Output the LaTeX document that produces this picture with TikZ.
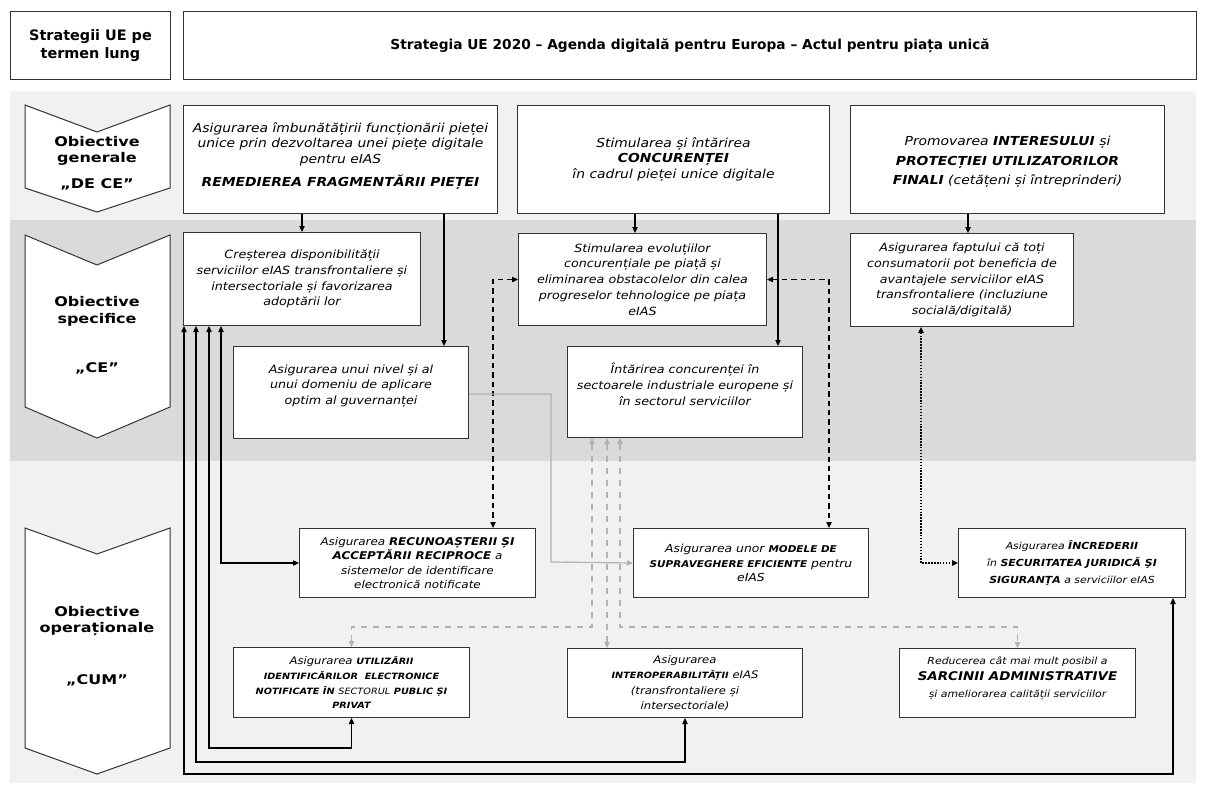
\documentclass[tikz,border=0pt]{standalone}
\usepackage{fontspec}
\setmainfont{DejaVu Sans}[ItalicFeatures={FakeStretch=1.12}, BoldItalicFeatures={FakeStretch=1.12}]
\newfontfamily\lvlfont{DejaVu Sans}[FakeStretch=1.2]
\usetikzlibrary{arrows.meta}

\definecolor{bandA}{gray}{0.945}
\definecolor{bandB}{gray}{0.855}
\definecolor{lnGray}{gray}{0.7}

\tikzset{
  sz/.style 2 args={minimum width=#1*0.75pt, minimum height=#2*0.75pt},
  box/.style={draw=black!80, fill=white, line width=0.75pt, align=center, inner sep=1pt, anchor=north west},
  hbox/.style={box, font=\fontsize{10.8}{13.5}\selectfont\bfseries},
  gbox/.style={box, font=\fontsize{9.3}{11.4}\selectfont\itshape},
  sbox/.style={box, font=\fontsize{8.5}{11.8}\selectfont\itshape},
  obox/.style={box, font=\fontsize{8}{10.9}\selectfont\itshape},
  lvl/.style={align=center, font=\lvlfont\fontsize{10}{12.5}\selectfont\bfseries},
  tip/.style={-{Triangle[length=4.5pt,width=4pt]}},
  both/.style={{Triangle[length=4.5pt,width=4pt]}-{Triangle[length=4.5pt,width=4pt]}},
  link/.style={line width=0.9pt, black},
  dlink/.style={link, dash pattern=on 4pt off 3pt},
  glink/.style={line width=0.9pt, lnGray},
  gdlink/.style={glink, dash pattern=on 5pt off 4pt},
  olink/.style={link, line width=1.3pt, dash pattern=on 1.1pt off 1.1pt},
}
\newcommand\smb[1]{{\fontsize{6.5}{10}\selectfont\bfseries #1}}

\begin{document}
\begin{tikzpicture}[x=0.75pt, y=-0.75pt]
    \useasboundingbox (0,0) rectangle (1206,785);
    \fill[bandA] (10,91) rectangle (1196,220);
    \fill[bandB] (10,220) rectangle (1196,461);
    \fill[bandA] (10,461) rectangle (1196,783);

    \foreach \t/\n/\s/\p in {105/132/188/212, 235/265/407/438, 528/554/748/774}
    {\draw[fill=white, draw=black!80, line width=0.75pt]
        (25,\t) -- (97,\n) -- (170,\t) -- (170,\s) -- (97,\p) -- (25,\s) -- cycle;}
    \node[lvl] (l1) at (97,151) {Obiective\\generale};
    \node[lvl] (l1q) at (97,184) {„DE CE”};
    \node[lvl] (l2) at (97,311) {Obiective\\specifice};
    \node[lvl] (l2q) at (97,368) {„CE”};
    \node[lvl] (l3) at (97,621) {Obiective\\operaționale};
    \node[lvl] (l3q) at (97,680) {„CUM”};

    \node[hbox, sz={160}{68}] (hl) at (10,11) {Strategii UE pe\\termen lung};
    \node[hbox, sz={1013}{68}, font=\fontsize{10.3}{12}\selectfont\bfseries] (hr) at (183,11)
        {Strategia UE 2020 – Agenda digitală pentru Europa – Actul pentru piața unică};

    \node[gbox, sz={314}{108}] (g1) at (183,105)
        {Asigurarea îmbunătățirii funcționării pieței\\unice prin dezvoltarea unei piețe digitale\\pentru eIAS\\[6pt]
         \textbf{REMEDIEREA FRAGMENTĂRII PIEȚEI}\\[-4pt]\mbox{}};
    \node[gbox, sz={312}{108}] (g2) at (517,105)
        {Stimularea și întărirea\\\textbf{CONCURENȚEI}\\în cadrul pieței unice digitale};
    \node[gbox, sz={314}{108}, font=\fontsize{9.3}{14.6}\selectfont\itshape] (g3) at (850,105)
        {\mbox{}\\[-4pt]Promovarea \textbf{INTERESULUI} și\\\textbf{PROTECȚIEI UTILIZATORILOR}\\\textbf{FINALI} (cetățeni și întreprinderi)};

    \node[sbox, sz={237}{93}] (s1) at (183,232)
        {Creșterea disponibilității\\serviciilor eIAS transfrontaliere și\\intersectoriale și favorizarea\\adoptării lor};
    \node[sbox, sz={248}{92}] (s2) at (518,233)
        {Stimularea evoluțiilor\\concurențiale pe piață și\\eliminarea obstacolelor din calea\\progreselor tehnologice pe piața\\eIAS};
    \node[sbox, sz={223}{93}] (s4) at (850,233)
        {Asigurarea faptului că toți\\consumatorii pot beneficia de\\avantajele serviciilor eIAS\\transfrontaliere (incluziune\\socială/digitală)};
    \node[sbox, sz={235}{92}] (s5) at (233,346)
        {Asigurarea unui nivel și al\\unui domeniu de aplicare\\optim al guvernanței\\\mbox{}};
    \node[sbox, sz={235}{91}] (s3) at (567,346)
        {Întărirea concurenței în\\sectoarele industriale europene și\\în sectorul serviciilor\\\mbox{}};

    \node[obox, sz={236}{69}] (rec) at (299,528)
        {Asigurarea \textbf{RECUNOAȘTERII ȘI}\\\textbf{ACCEPTĂRII RECIPROCE} a\\sistemelor de identificare\\electronică notificate};
    \node[obox, sz={235}{69}, font=\fontsize{8.3}{10.9}\selectfont\itshape] (mod) at (633,528)
        {Asigurarea unor {\fontsize{7}{10}\selectfont\bfseries MODELE DE}\\{\fontsize{7}{10}\selectfont\bfseries SUPRAVEGHERE EFICIENTE} pentru\\eIAS};
    \node[obox, sz={227}{69}, font=\fontsize{7.3}{12.6}\selectfont\itshape] (inc) at (958,528)
        {Asigurarea \textbf{ÎNCREDERII}\\în \textbf{SECURITATEA JURIDICĂ ŞI}\\\textbf{SIGURANŢA} a serviciilor eIAS};
    \node[obox, sz={236}{70}, font=\fontsize{7.8}{11.2}\selectfont\itshape] (uti) at (233,647)
        {Asigurarea \smb{UTILIZĂRII}\\\smb{IDENTIFICĂRILOR\ \ ELECTRONICE}\\\smb{NOTIFICATE ÎN} {\fontsize{6.5}{10}\selectfont SECTORUL} \smb{PUBLIC ȘI}\\\smb{PRIVAT}};
    \node[obox, sz={235}{69}, font=\fontsize{7.8}{11.6}\selectfont\itshape] (int) at (567,648)
        {Asigurarea\\\smb{INTEROPERABILITĂȚII} eIAS\\(transfrontaliere și\\intersectoriale)};
    \node[obox, sz={236}{69}, font=\fontsize{7.3}{12.4}\selectfont\itshape] (red) at (899,648)
        {Reducerea cât mai mult posibil a\\{\fontsize{9}{10}\selectfont\bfseries SARCINII ADMINISTRATIVE}\\ și ameliorarea calității serviciilor\\[-3pt]\mbox{}};

    \draw[link,tip] (g1.south -| s1.north) -- (s1.north);
    \draw[link,tip] (g1.south -| 444,0) -- (s5.north -| 444,0);
    \draw[link,tip] (g2.south -| 635,0) -- (s2.north -| 635,0);
    \draw[link,tip] (g2.south -| 778,0) -- (s3.north -| 778,0);
    \draw[link,tip] (g3.south -| 968,0) -- (s4.north -| 968,0);

    \draw[dlink,both] (s2.west) -| (rec.north -| 493,0);
    \draw[dlink,both] (s2.east) -| (mod.north -| 829,0);
    \draw[olink,both] (s4.south -| 921,0) |- (inc.west);
    \draw[glink,tip] (s5.east |- 0,394) -| (551,562) -- (mod.west);

    \draw[gdlink,both] (s3.south -| 592,0) -- (592,627) -| (uti.north);
    \draw[gdlink,both] (s3.south -| 607,0) -- (int.north -| 607,0);
    \draw[gdlink,both] (s3.south -| 620,0) -- (620,627) -| (red.north);

    \draw[link,both] (s1.south -| 221,0) |- (rec.west);
    \foreach \x/\y/\o in {209/748/uti, 196/762/int}
    {\draw[link,both] (s1.south -| \x,0) -- (\x,\y) -| (\o.south);}
    \draw[link,both] (s1.south -| 184,0) -- (184,774) -| (inc.south -| 1173,0);
\end{tikzpicture}
\end{document}
